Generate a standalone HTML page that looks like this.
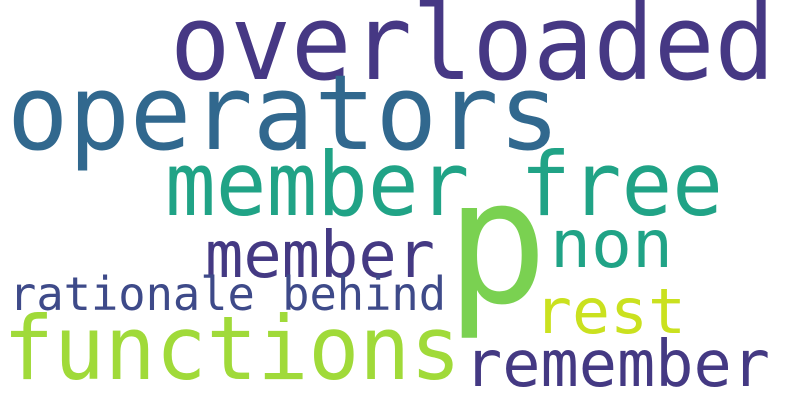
<!DOCTYPE html>
<html><head><meta charset="utf-8"><style>html,body{margin:0;padding:0;background:#fff;}svg{display:block}</style></head>
<body>
<svg width="800" height="400" viewBox="0 0 800 400" xmlns="http://www.w3.org/2000/svg" font-family="'DejaVu Sans Mono','Liberation Mono',monospace">
<rect width="800" height="400" fill="#fff"/>
<text x="170" y="79" font-size="104" fill="#463884" textLength="605" lengthAdjust="spacingAndGlyphs">overloaded</text>
<text x="7" y="149" font-size="104" fill="#31688e" textLength="553" lengthAdjust="spacingAndGlyphs">operators</text>
<text x="165" y="215" font-size="88" fill="#20a386" textLength="558" lengthAdjust="spacingAndGlyphs">member free</text>
<text x="446" y="302" font-size="172" fill="#7ad151" textLength="102" lengthAdjust="spacingAndGlyphs">p</text>
<text x="550" y="267" font-size="66" fill="#20a386" textLength="123" lengthAdjust="spacingAndGlyphs">non</text>
<text x="205" y="277" font-size="64" fill="#443983" textLength="230" lengthAdjust="spacingAndGlyphs">member</text>
<text x="9" y="310" font-size="46" fill="#3e4a89" textLength="437" lengthAdjust="spacingAndGlyphs">rationale behind</text>
<text x="534" y="333" font-size="62" fill="#cae11f" textLength="152" lengthAdjust="spacingAndGlyphs">rest</text>
<text x="3" y="379" font-size="88" fill="#a0da39" textLength="458" lengthAdjust="spacingAndGlyphs">functions</text>
<text x="464" y="386" font-size="64" fill="#443983" textLength="306" lengthAdjust="spacingAndGlyphs">remember</text>
</svg>
</body></html>
